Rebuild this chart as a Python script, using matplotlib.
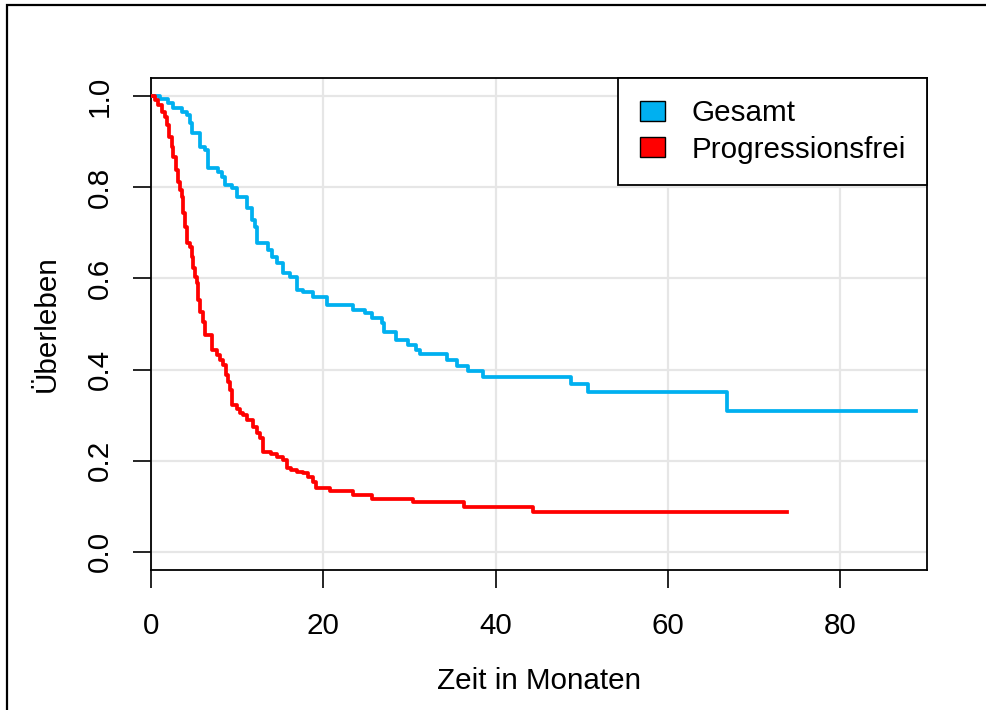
import matplotlib
matplotlib.use("Agg")
import matplotlib.pyplot as plt
from matplotlib.patches import Patch, Rectangle

plt.rcParams['font.family'] = ['Liberation Sans', 'DejaVu Sans']

# Kaplan-Meier step estimates (time in months, survival probability)
gesamt_t = [0, 1.0, 2.0, 2.55, 3.6, 4.2, 4.5, 4.75, 5.7, 6.3, 6.6, 7.8, 8.2, 8.6, 9.4,
            10.0, 11.2, 11.7, 12.1, 12.3, 13.6, 14.1, 14.6, 15.3, 16.1, 17.0, 17.6,
            18.8, 20.4, 23.4, 24.8, 25.7, 26.8, 27.1, 28.5, 29.8, 30.8, 31.2, 34.4,
            35.5, 36.8, 38.5, 48.8, 50.7, 66.9, 88.8]
gesamt_s = [1.0, 0.995, 0.985, 0.974, 0.965, 0.958, 0.941, 0.919, 0.888, 0.882, 0.842,
            0.833, 0.822, 0.805, 0.798, 0.778, 0.754, 0.728, 0.713, 0.678, 0.662, 0.647,
            0.634, 0.612, 0.603, 0.575, 0.570, 0.559, 0.542, 0.531, 0.524, 0.513, 0.502,
            0.482, 0.465, 0.454, 0.443, 0.434, 0.421, 0.408, 0.397, 0.384, 0.368, 0.351,
            0.309, 0.309]

pfs_t = [0, 0.46, 0.8, 1.3, 1.6, 1.8, 2.1, 2.4, 2.6, 2.9, 3.1, 3.4, 3.55, 3.7, 3.9,
         4.2, 4.5, 4.75, 4.9, 5.1, 5.3, 5.5, 5.7, 6.0, 6.3, 7.1, 7.7, 8.0, 8.4, 8.7,
         8.9, 9.2, 9.4, 10.0, 10.3, 10.7, 11.1, 11.8, 12.3, 12.6, 13.0, 13.9, 14.6,
         15.3, 15.8, 16.3, 17.0, 17.6, 18.2, 18.8, 19.2, 20.8, 23.4, 25.7, 30.4, 36.3,
         44.3, 73.9]
pfs_s = [1.0, 0.991, 0.980, 0.965, 0.954, 0.936, 0.910, 0.888, 0.866, 0.838, 0.811,
         0.794, 0.778, 0.743, 0.713, 0.678, 0.669, 0.647, 0.623, 0.603, 0.590, 0.553,
         0.526, 0.504, 0.476, 0.443, 0.432, 0.421, 0.410, 0.388, 0.373, 0.355, 0.322,
         0.314, 0.305, 0.300, 0.289, 0.274, 0.261, 0.250, 0.219, 0.215, 0.208, 0.202,
         0.184, 0.180, 0.175, 0.173, 0.164, 0.154, 0.140, 0.134, 0.125, 0.116, 0.110,
         0.099, 0.088, 0.088]

series_labels = ["Gesamt", "Progressionsfrei"]
series_colors = ["#00B0F0", "#FF0000"]
x_ticks = [0, 20, 40, 60, 80]
y_ticks = [0.0, 0.2, 0.4, 0.6, 0.8, 1.0]

W, H = 987, 710
FS = 21.3
fig = plt.figure(figsize=(W / 100, H / 100), dpi=100)

# outer frame around the figure
fig.patches.append(Rectangle((7 / W, -0.05), 1.1, 1 - 5 / H + 0.05,
                             transform=fig.transFigure, fill=False,
                             edgecolor="black", linewidth=1.6))

left, right, top, bottom = 151, 927, 78, 570
ax = fig.add_axes([left / W, 1 - bottom / H, (right - left) / W, (bottom - top) / H])

ax.set_xlim(0, 90.1)
ax.set_ylim(-0.04, 1.04)

for xv in x_ticks:
    ax.axvline(xv, color="#E6E6E6", linewidth=1.6, zorder=0)
for yv in y_ticks:
    ax.axhline(yv, color="#E6E6E6", linewidth=1.6, zorder=0)

ax.step(gesamt_t, gesamt_s, where="post", color=series_colors[0], linewidth=2.7,
        zorder=3)
ax.step(pfs_t, pfs_s, where="post", color=series_colors[1], linewidth=2.7,
        zorder=3)

ax.set_xticks(x_ticks)
ax.set_xticklabels([str(v) for v in x_ticks])
ax.set_yticks(y_ticks)
ax.set_yticklabels([f"{v:.1f}" for v in y_ticks], rotation=90, va="center")
ax.tick_params(axis="both", length=13, width=1.2, labelsize=FS, direction="out")
ax.tick_params(axis="x", pad=17)
ax.tick_params(axis="y", pad=14)

for sp in ax.spines.values():
    sp.set_linewidth(1.3)

ax.set_xlabel("Zeit in Monaten", fontsize=FS, labelpad=20)
ax.set_ylabel("Überleben", fontsize=FS, labelpad=18)

handles = [Patch(facecolor=c, edgecolor="black", linewidth=1.0) for c in series_colors]
leg = ax.legend(handles, series_labels, loc="upper right", fontsize=FS,
                frameon=True, fancybox=False, framealpha=1, edgecolor="black",
                borderaxespad=0, borderpad=0.72, handlelength=0.85, handleheight=0.65,
                handletextpad=0.9, labelspacing=0.28)
leg.get_frame().set_linewidth(1.3)

fig.savefig("out.png", dpi=100)
